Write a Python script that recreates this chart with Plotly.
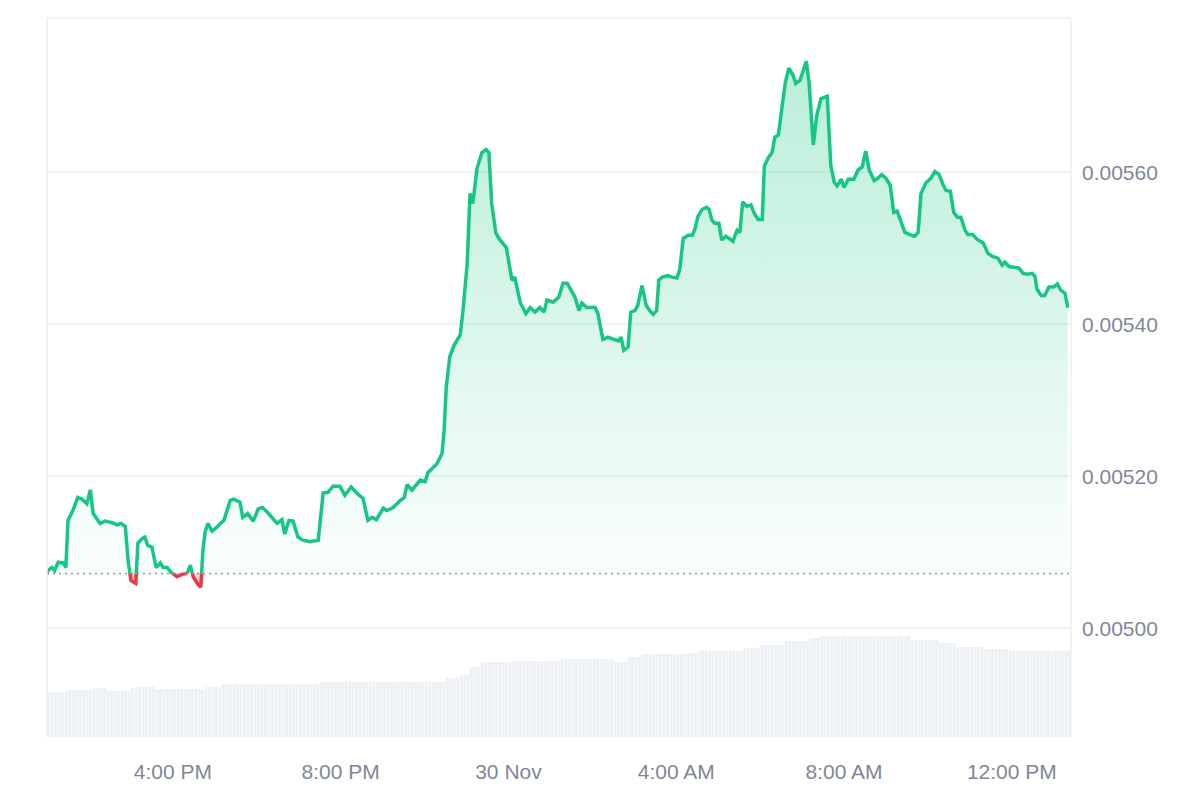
import plotly.graph_objects as go
import pandas as pd

# ---------------- data ----------------
# minutes since 29 Nov 13:00
minutes = [0, 1, 7, 11, 16, 23, 27, 30, 37, 44, 50, 57, 62, 66, 76, 83, 93, 100, 106, 112,
           116, 120, 127, 130, 136, 140, 144, 150, 156, 162, 166, 172, 177, 186, 193, 200, 205, 209, 215, 220,
           223, 226, 230, 236, 243, 249, 253, 262, 267, 276, 280, 287, 295, 302, 308, 315, 322, 329, 336, 340,
           346, 352, 359, 366, 376, 388, 395, 402, 409, 419, 426, 435, 443, 452, 459, 465, 471, 481, 486, 495,
           505, 511, 515, 522, 534, 541, 545, 558, 565, 568, 571, 576, 582, 591, 595, 601, 605, 609, 615, 622,
           628, 632, 636, 642, 648, 657, 665, 669, 677, 685, 691, 698, 705, 711, 715, 724, 732, 738, 744, 749,
           755, 761, 765, 772, 784, 788, 795, 802, 811, 817, 821, 825, 831, 835, 841, 845, 851, 857, 862, 867,
           872, 875, 880, 888, 894, 901, 905, 910, 917, 923, 927, 931, 937, 943, 947, 951, 955, 961, 965, 971,
           977, 981, 987, 991, 995, 1001, 1007, 1011, 1017, 1023, 1026, 1031, 1037, 1041, 1046, 1051, 1056, 1061, 1067, 1071,
           1077, 1081, 1086, 1090, 1096, 1101, 1107, 1116, 1121, 1126, 1130, 1136, 1140, 1146, 1154, 1160, 1166, 1171, 1176, 1183,
           1187, 1194, 1200, 1206, 1211, 1216, 1221, 1227, 1234, 1241, 1246, 1250, 1257, 1264, 1270, 1276, 1282, 1286, 1292, 1297,
           1302, 1307, 1313, 1317, 1324, 1330, 1339, 1346, 1353, 1360, 1366, 1370, 1376, 1385, 1390, 1396, 1402, 1409, 1413, 1416,
           1422, 1427, 1433, 1440, 1445, 1450, 1456, 1460]

price = [0.005071, 0.005076, 0.005080, 0.005076, 0.005087, 0.005086, 0.005080, 0.005142, 0.005155, 0.005172,
         0.005170, 0.005164, 0.005182, 0.005151, 0.005138, 0.005141, 0.005139, 0.005136, 0.005138, 0.005134,
         0.005089, 0.005063, 0.005059, 0.005112, 0.005118, 0.005120, 0.005109, 0.005107, 0.005080, 0.005086,
         0.005080, 0.005080, 0.005074, 0.005068, 0.005071, 0.005071, 0.005083, 0.005068, 0.005059, 0.005054,
         0.005103, 0.005126, 0.005138, 0.005128, 0.005133, 0.005139, 0.005142, 0.005168, 0.005170, 0.005166,
         0.005146, 0.005151, 0.005141, 0.005157, 0.005159, 0.005153, 0.005145, 0.005138, 0.005143, 0.005124,
         0.005142, 0.005141, 0.005120, 0.005116, 0.005114, 0.005116, 0.005178, 0.005179, 0.005187, 0.005187,
         0.005175, 0.005186, 0.005178, 0.005171, 0.005142, 0.005146, 0.005143, 0.005158, 0.005155, 0.005159,
         0.005168, 0.005172, 0.005189, 0.005182, 0.005195, 0.005193, 0.005205, 0.005217, 0.005230, 0.005261,
         0.005317, 0.005357, 0.005372, 0.005386, 0.005418, 0.005480, 0.005572, 0.005559, 0.005605, 0.005626,
         0.005630, 0.005626, 0.005559, 0.005520, 0.005511, 0.005501, 0.005458, 0.005462, 0.005428, 0.005414,
         0.005422, 0.005416, 0.005422, 0.005416, 0.005432, 0.005429, 0.005436, 0.005454, 0.005454, 0.005446,
         0.005436, 0.005418, 0.005428, 0.005422, 0.005422, 0.005414, 0.005380, 0.005383, 0.005380, 0.005378,
         0.005383, 0.005366, 0.005370, 0.005416, 0.005418, 0.005425, 0.005451, 0.005425, 0.005418, 0.005413,
         0.005418, 0.005458, 0.005462, 0.005464, 0.005462, 0.005461, 0.005472, 0.005513, 0.005517, 0.005517,
         0.005526, 0.005542, 0.005551, 0.005554, 0.005551, 0.005537, 0.005533, 0.005533, 0.005511, 0.005516,
         0.005512, 0.005509, 0.005524, 0.005521, 0.005561, 0.005555, 0.005557, 0.005547, 0.005538, 0.005538,
         0.005608, 0.005618, 0.005626, 0.005646, 0.005649, 0.005688, 0.005718, 0.005737, 0.005728, 0.005717,
         0.005721, 0.005732, 0.005746, 0.005718, 0.005636, 0.005675, 0.005697, 0.005700, 0.005609, 0.005587,
         0.005582, 0.005591, 0.005580, 0.005591, 0.005591, 0.005603, 0.005607, 0.005628, 0.005603, 0.005589,
         0.005591, 0.005597, 0.005592, 0.005583, 0.005547, 0.005549, 0.005537, 0.005521, 0.005518, 0.005516,
         0.005521, 0.005572, 0.005586, 0.005592, 0.005601, 0.005597, 0.005583, 0.005576, 0.005575, 0.005547,
         0.005541, 0.005541, 0.005524, 0.005518, 0.005518, 0.005512, 0.005507, 0.005493, 0.005489, 0.005487,
         0.005478, 0.005482, 0.005476, 0.005475, 0.005474, 0.005467, 0.005466, 0.005467, 0.005463, 0.005446,
         0.005438, 0.005438, 0.005449, 0.005449, 0.005453, 0.005445, 0.005441, 0.005422]

baseline_price = 0.005072

# volume: run-length levels (relative units) and number of 5-minute bars at each level
volume_level = [45, 47, 49, 46, 49, 50, 48, 50, 53, 55, 59, 62, 70, 75, 76, 78, 75, 80, 83, 84,
                86, 89, 92, 96, 99, 101, 97, 94, 90, 88, 86]
volume_bars = [6, 7, 4, 7, 2, 5, 14, 5, 28, 36, 4, 3, 3, 9, 14, 15, 4, 4, 13, 3,
               13, 5, 7, 7, 3, 26, 8, 5, 8, 7, 18]
bar_minutes = 5

tick_times = ["2024-11-29 16:00", "2024-11-29 20:00", "2024-11-30 00:00",
              "2024-11-30 04:00", "2024-11-30 08:00", "2024-11-30 12:00"]
tick_text = ["4:00 PM", "8:00 PM", "30 Nov", "4:00 AM", "8:00 AM", "12:00 PM"]
price_ticks = [0.00500, 0.00520, 0.00540, 0.00560]

# ---------------- build ----------------
START = pd.Timestamp("2024-11-29 13:00")
times = [START + pd.Timedelta(minutes=m) for m in minutes]

xs, ys = [], []
for i, v in enumerate(price):
    if i > 0:
        a, b = price[i - 1], v
        if (a - baseline_price) * (b - baseline_price) < 0:
            f = (baseline_price - a) / (b - a)
            xs.append(times[i - 1] + (times[i] - times[i - 1]) * f)
            ys.append(baseline_price)
    xs.append(times[i])
    ys.append(v)

upper = [max(v, baseline_price) for v in ys]
lower = [min(v, baseline_price) for v in ys]
green_line = [v if v >= baseline_price else None for v in ys]
red_line = [v if v <= baseline_price else None for v in ys]
base_series = [baseline_price] * len(xs)

vol_x, vol_y = [], []
k = 0
for lvl, n in zip(volume_level, volume_bars):
    for _ in range(n):
        vol_x.append(START + pd.Timedelta(minutes=k * bar_minutes + bar_minutes / 2))
        vol_y.append(lvl)
        k += 1

GREEN = "#16c784"
RED = "#ea3943"
LABEL = "#7f8799"
FONT = "Liberation Sans, Arial, sans-serif"

fig = go.Figure()
fig.add_trace(go.Bar(x=vol_x, y=vol_y, yaxis="y2", marker=dict(color="#edf0f4", line=dict(width=0)),
                     hoverinfo="skip"))
fig.add_trace(go.Scatter(x=xs, y=base_series, mode="lines", line=dict(width=0), hoverinfo="skip"))
fig.add_trace(go.Scatter(x=xs, y=upper, mode="lines", line=dict(width=0), fill="tonexty",
                         fillgradient=dict(type="vertical",
                                           colorscale=[[0, "rgba(22,199,132,0.02)"],
                                                       [1, "rgba(22,199,132,0.30)"]],
                                           start=baseline_price, stop=max(price)),
                         hoverinfo="skip"))
fig.add_trace(go.Scatter(x=xs, y=base_series, mode="lines", line=dict(width=0), hoverinfo="skip"))
fig.add_trace(go.Scatter(x=xs, y=lower, mode="lines", line=dict(width=0), fill="tonexty",
                         fillcolor="rgba(234,57,67,0.25)", hoverinfo="skip"))
fig.add_trace(go.Scatter(x=xs, y=green_line, mode="lines", line=dict(color=GREEN, width=3.5),
                         connectgaps=False))
fig.add_trace(go.Scatter(x=xs, y=red_line, mode="lines", line=dict(color=RED, width=3.5),
                         connectgaps=False))

x_end = START + pd.Timedelta(minutes=1464.6)
fig.update_layout(
    width=1200, height=800,
    margin=dict(l=47, r=129, t=18, b=63),
    paper_bgcolor="white", plot_bgcolor="white",
    showlegend=False, bargap=0.15,
    font=dict(family=FONT, color=LABEL, size=21),
    xaxis=dict(range=[START, x_end], showgrid=False, zeroline=False,
               tickvals=tick_times, ticktext=tick_text, ticks="outside", ticklen=0,
               ticklabelstandoff=16, tickfont=dict(size=21, color=LABEL)),
    yaxis=dict(side="right", range=[0.004857, 0.005803], tickvals=price_ticks, tickformat=".5f",
               showgrid=True, gridcolor="#eff1f4", gridwidth=1.5, zeroline=False,
               ticklabelstandoff=10, tickfont=dict(size=21, color=LABEL)),
    yaxis2=dict(overlaying="y", range=[0, 719], visible=False),
    shapes=[
        dict(type="line", xref="paper", x0=0, x1=1, yref="y", y0=baseline_price, y1=baseline_price,
             line=dict(color="#8e939c", width=1.5, dash="2px,4px"), layer="above"),
        dict(type="line", xref="paper", yref="paper", x0=0, x1=0, y0=0, y1=1,
             line=dict(color="#eceff2", width=1.5), layer="above"),
        dict(type="line", xref="paper", yref="paper", x0=1, x1=1, y0=0, y1=1,
             line=dict(color="#eceff2", width=1.5), layer="above"),
        dict(type="line", xref="paper", yref="paper", x0=0, x1=1, y0=1, y1=1,
             line=dict(color="#eceff2", width=1.5), layer="above"),
    ],
)

fig.write_html("out.html")
